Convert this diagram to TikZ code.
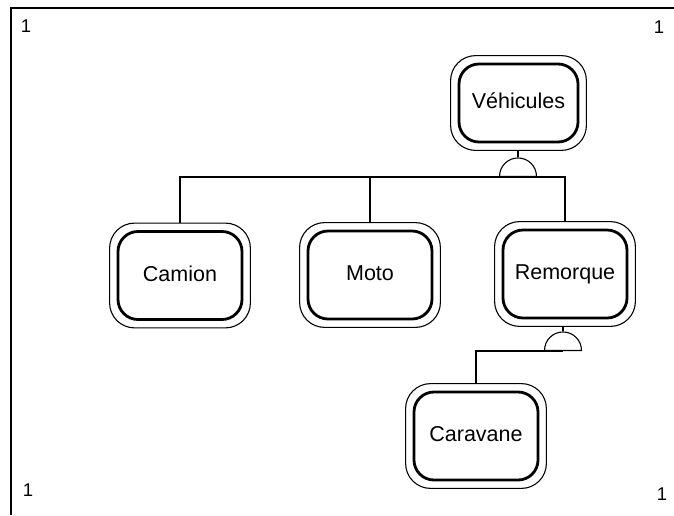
\documentclass[tikz,border=0pt]{standalone}
\usepackage{fontspec}
\setmainfont{Liberation Sans}
\usetikzlibrary{shapes.geometric,fit,calc}

\tikzset{
  classe/.style={draw,line width=2.8pt,rounded corners=20pt,minimum width=124pt,minimum height=88pt,
    text height=15.5pt,text depth=4.5pt,font=\fontsize{21.5}{24}\selectfont},
  cadre/.style={draw,line width=1.1pt,rounded corners=25pt,inner sep=7pt},
  jonction/.style={semicircle,draw,line width=1.1pt,inner sep=0pt,minimum width=37pt,anchor=chord center},
  lien/.style={line width=1.1pt},
  coin/.style={font=\fontsize{18.5}{20}\selectfont,inner sep=0pt},
}

\begin{document}
\begin{tikzpicture}[x=1pt,y=-1pt]
  \useasboundingbox (0,0) rectangle (674,515);
  \draw[line width=1.5pt] (11,515) -- (11,8) -- (674,8);

  % numeros de page dans les coins
  \node[coin] (coinNO) at (26,26) {1};
  \node[coin] (coinNE) at (659,27) {1};
  \node[coin] (coinSO) at (28,490) {1};
  \node[coin] (coinSE) at (662,494) {1};

  % classe mere
  \node[classe,minimum width=119pt,minimum height=78pt] (vehicules) at (518.5,103) {Véhicules};
  \node[cadre,fit=(vehicules)] (cvehicules) {};

  % classes filles
  \foreach \n/\t/\x/\y in {camion/Camion/180/275.5, moto/Moto/370/275,
      remorque/Remorque/565/274, caravane/Caravane/476/436}
  {
    \node[classe] (\n) at (\x,\y) {\t};
    \node[cadre,fit=(\n)] (c\n) {};
  }

  % heritage
  \node[jonction] (jvehicules) at (518,177) {};
  \node[jonction] (jremorque) at (563,351) {};

  \draw[lien] (jvehicules.apex) -- (jvehicules.apex |- cvehicules.south);
  \draw[lien] (ccamion.north) |- (jvehicules.chord center) -| (cremorque.north);
  \draw[lien] (cmoto.north) -- (cmoto.north |- jvehicules.chord center);

  \draw[lien] (jremorque.apex) -- (jremorque.apex |- cremorque.south);
  \draw[lien] (jremorque.chord center) -| (ccaravane.north);
\end{tikzpicture}
\end{document}
